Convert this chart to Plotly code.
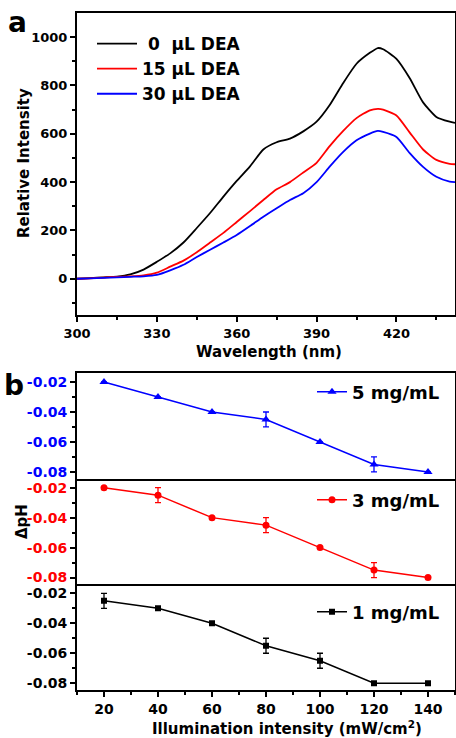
import plotly.graph_objects as go

# ---------------- Panel a data ----------------
wavelength = [300, 305, 310, 315, 320, 325, 330, 335, 340, 345, 350, 355, 360, 365, 370,
              375, 380, 385, 390, 395, 400, 405, 410, 413, 415, 420, 425, 430, 435, 440, 442]
int_0 = [0, 3, 6, 9, 18, 38, 70, 105, 150, 210, 272, 340, 405, 465, 535,
         565, 580, 610, 650, 720, 810, 890, 935, 955, 950, 910, 830, 730, 670, 650, 645]
int_15 = [0, 2, 5, 8, 10, 14, 25, 50, 75, 110, 150, 190, 235, 280, 326,
          370, 400, 440, 480, 550, 612, 665, 697, 703, 700, 676, 605, 535, 492, 476, 474]
int_30 = [0, 2, 4, 6, 8, 10, 16, 35, 58, 90, 120, 150, 181, 218, 257,
          292, 326, 354, 400, 465, 525, 573, 601, 612, 608, 587, 520, 463, 422, 402, 400]
names_a = ["\u00a00\u00a0\u00a0\u03bcL DEA", "15 \u03bcL DEA", "30 \u03bcL DEA"]

# ---------------- Panel b data ----------------
illum = [20, 40, 60, 80, 100, 120, 140]
dph_5 = [-0.02, -0.03, -0.04, -0.045, -0.06, -0.075, -0.08]
err_5 = [0, 0, 0, 0.005, 0, 0.005, 0]
dph_3 = [-0.02, -0.025, -0.04, -0.045, -0.06, -0.075, -0.08]
err_3 = [0, 0.005, 0, 0.005, 0, 0.005, 0]
dph_1 = [-0.025, -0.03, -0.04, -0.055, -0.065, -0.08, -0.08]
err_1 = [0.005, 0, 0, 0.005, 0.005, 0, 0]

FONT = "DejaVu Sans"
W, H = 456, 738


def px(x):
    return x / W


def py(y):
    return 1 - y / H


fig = go.Figure()

for yv, nm, col, g in [(int_0, names_a[0], "black", "a0"),
                       (int_15, names_a[1], "#ff0000", "a1"),
                       (int_30, names_a[2], "#0000ff", "a2")]:
    fig.add_trace(go.Scatter(x=wavelength, y=yv, mode="lines", name=nm,
                             line=dict(color=col, width=1.8, shape="spline", smoothing=0.6),
                             xaxis="x", yaxis="y", legend="legend", legendgroup=g))

panels = [
    (dph_5, err_5, "5 mg/mL", "#0000ff", "triangle-up", 8, "x2", "y2", "legend2"),
    (dph_3, err_3, "3 mg/mL", "#ff0000", "circle", 7, "x3", "y3", "legend3"),
    (dph_1, err_1, "1 mg/mL", "black", "square", 6, "x4", "y4", "legend4"),
]
for yv, ev, nm, col, sym, ms, xa, ya, lg in panels:
    fig.add_trace(go.Scatter(x=illum, y=yv, mode="lines+markers", name=nm,
                             line=dict(color=col, width=1.5),
                             marker=dict(symbol=sym, size=ms, color=col),
                             error_y=dict(type="data", array=ev, visible=True,
                                          color=col, thickness=1.3, width=3),
                             xaxis=xa, yaxis=ya, legend=lg))

axis_common = dict(showline=True, linewidth=2, linecolor="black", mirror=True,
                   ticks="outside", ticklen=5, tickwidth=1.5, tickcolor="black",
                   showgrid=False, zeroline=False, automargin=False,
                   tickfont=dict(family=FONT, size=13, color="black", weight="bold"))

minor_style = dict(ticks="outside", ticklen=3, tickwidth=1.5, tickcolor="black", showgrid=False)

xdom = [px(77), px(455)]
b_bounds = [373, 478.7, 584.3, 690]

layout = dict(
    width=W, height=H, margin=dict(l=0, r=0, t=0, b=0, autoexpand=False),
    paper_bgcolor="white", plot_bgcolor="white",
    font=dict(family=FONT, color="black"),
    xaxis=dict(domain=xdom, anchor="y", range=[300, 442], tickvals=[300, 330, 360, 390, 420],
               minor=dict(tickvals=[315, 345, 375, 405, 435], **minor_style),
               **axis_common),
    yaxis=dict(domain=[py(315), py(13)], anchor="x", range=[-150, 1100],
               tickvals=[0, 200, 400, 600, 800, 1000],
               minor=dict(tickvals=[-100, 100, 300, 500, 700, 900], **minor_style),
               **axis_common),
)

tickvals_b = [-0.02, -0.04, -0.06, -0.08]
minor_b = [-0.03, -0.05, -0.07]
colors_b = ["#0000ff", "#ff0000", "black"]
for i in range(3):
    xa = "xaxis%d" % (i + 2)
    ya = "yaxis%d" % (i + 2)
    top, bot = b_bounds[i], b_bounds[i + 1]
    last = (i == 2)
    xc = dict(axis_common)
    xc["tickfont"] = dict(family=FONT, size=14, color="black", weight="bold")
    xc["mirror"] = (i == 0)
    if last:
        layout[xa] = dict(domain=xdom, anchor="y%d" % (i + 2), range=[10, 150],
                          tickvals=[20, 40, 60, 80, 100, 120, 140],
                          minor=dict(tickvals=[10, 30, 50, 70, 90, 110, 130, 150], **minor_style),
                          **xc)
    else:
        xc["ticks"] = ""
        layout[xa] = dict(domain=xdom, anchor="y%d" % (i + 2), range=[10, 150],
                          showticklabels=False, **xc)
    yc = dict(axis_common)
    yc["tickfont"] = dict(family=FONT, size=14, color=colors_b[i], weight="bold")
    layout[ya] = dict(domain=[py(bot), py(top)], anchor="x%d" % (i + 2),
                      range=[-0.0845, -0.014], tickvals=tickvals_b,
                      ticktext=["-0.02", "-0.04", "-0.06", "-0.08"],
                      minor=dict(tickvals=minor_b, **minor_style),
                      **yc)

legend_font_a = dict(family=FONT, size=17, color="black", weight="bold")
layout["legend"] = dict(x=px(92), y=py(26), xanchor="left", yanchor="top",
                        bgcolor="rgba(0,0,0,0)", font=legend_font_a,
                        tracegroupgap=0, itemwidth=40)
for k, ycen in [("legend2", 392), ("legend3", 500), ("legend4", 612)]:
    layout[k] = dict(x=px(312), y=py(ycen), xanchor="left", yanchor="middle",
                     bgcolor="rgba(0,0,0,0)",
                     font=dict(family=FONT, size=18, color="black", weight="bold"),
                     itemwidth=30)

fig.update_layout(**layout)

title_font = dict(family=FONT, size=15, color="black", weight="bold")
ann = [
    dict(text="a", x=px(17), y=py(22), font=dict(family=FONT, size=28, color="black", weight="bold")),
    dict(text="b", x=px(14), y=py(385), font=dict(family=FONT, size=28, color="black", weight="bold")),
    dict(text="Wavelength (nm)", x=px(269), y=py(352), font=title_font),
    dict(text="Illumination intensity (mW/cm<sup>2</sup>)", x=px(287), y=py(728), font=title_font),
    dict(text="Relative Intensity", x=px(24), y=py(163), textangle=-90, font=title_font),
    dict(text="\u0394pH", x=px(22), y=py(522), textangle=-90, font=title_font),
]
for a in ann:
    fig.add_annotation(xref="paper", yref="paper", showarrow=False,
                       xanchor="center", yanchor="middle", **a)

fig.write_html("out.html", config={"displayModeBar": False},
               post_script="document.body.style.margin='0px';document.body.style.overflow='hidden';")
